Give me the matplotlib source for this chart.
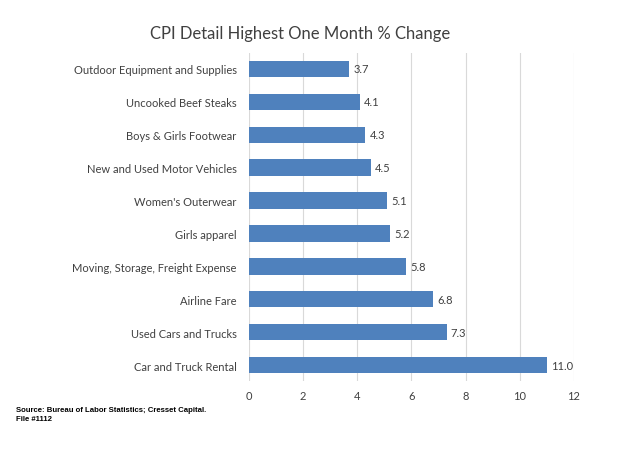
import matplotlib
matplotlib.use("Agg")
import matplotlib.pyplot as plt

categories = ["Outdoor Equipment and Supplies", "Uncooked Beef Steaks", "Boys & Girls Footwear",
              "New and Used Motor Vehicles", "Women's Outerwear", "Girls apparel",
              "Moving, Storage, Freight Expense", "Airline Fare", "Used Cars and Trucks",
              "Car and Truck Rental"]
values = [3.7, 4.1, 4.3, 4.5, 5.1, 5.2, 5.8, 6.8, 7.3, 11.0]
xticks = [0, 2, 4, 6, 8, 10, 12]

plt.rcParams['font.family'] = ['Lato', 'DejaVu Sans']
fig = plt.figure(figsize=(6.28, 4.52), dpi=100)
ax = fig.add_axes([0.3965, 0.1538, 0.5175, 0.7278])
y = list(range(len(categories)))
ax.barh(y, values, height=0.5, color='#4F81BD', zorder=3)
for yi, v in zip(y, values):
    ax.text(v + 0.15, yi, f"{v:.1f}", va='center', ha='left', fontsize=8, color='#404040')
ax.set_ylim(len(categories) - 0.5, -0.5)
ax.set_xlim(0, 12)
ax.set_xticks(xticks)
ax.set_xticklabels([str(t) for t in xticks])
ax.set_yticks(y)
ax.set_yticklabels(categories)
ax.tick_params(axis='both', length=0, labelsize=8, colors='#404040')
ax.tick_params(axis='y', pad=9)
ax.tick_params(axis='x', pad=6)
ax.grid(axis='x', color='#D9D9D9', linewidth=0.8, zorder=0)
for s in ax.spines.values():
    s.set_visible(False)
fig.text(0.478, 0.924, "CPI Detail Highest One Month % Change", ha='center', va='center',
         fontsize=12, color='#404040')
fig.text(0.026, 0.082, "Source: Bureau of Labor Statistics; Cresset Capital.\nFile #1112",
         ha='left', va='center', fontsize=5.6, fontweight='bold',
         family=['Liberation Sans'], linespacing=1.3)
fig.savefig("out.png", dpi=100)
